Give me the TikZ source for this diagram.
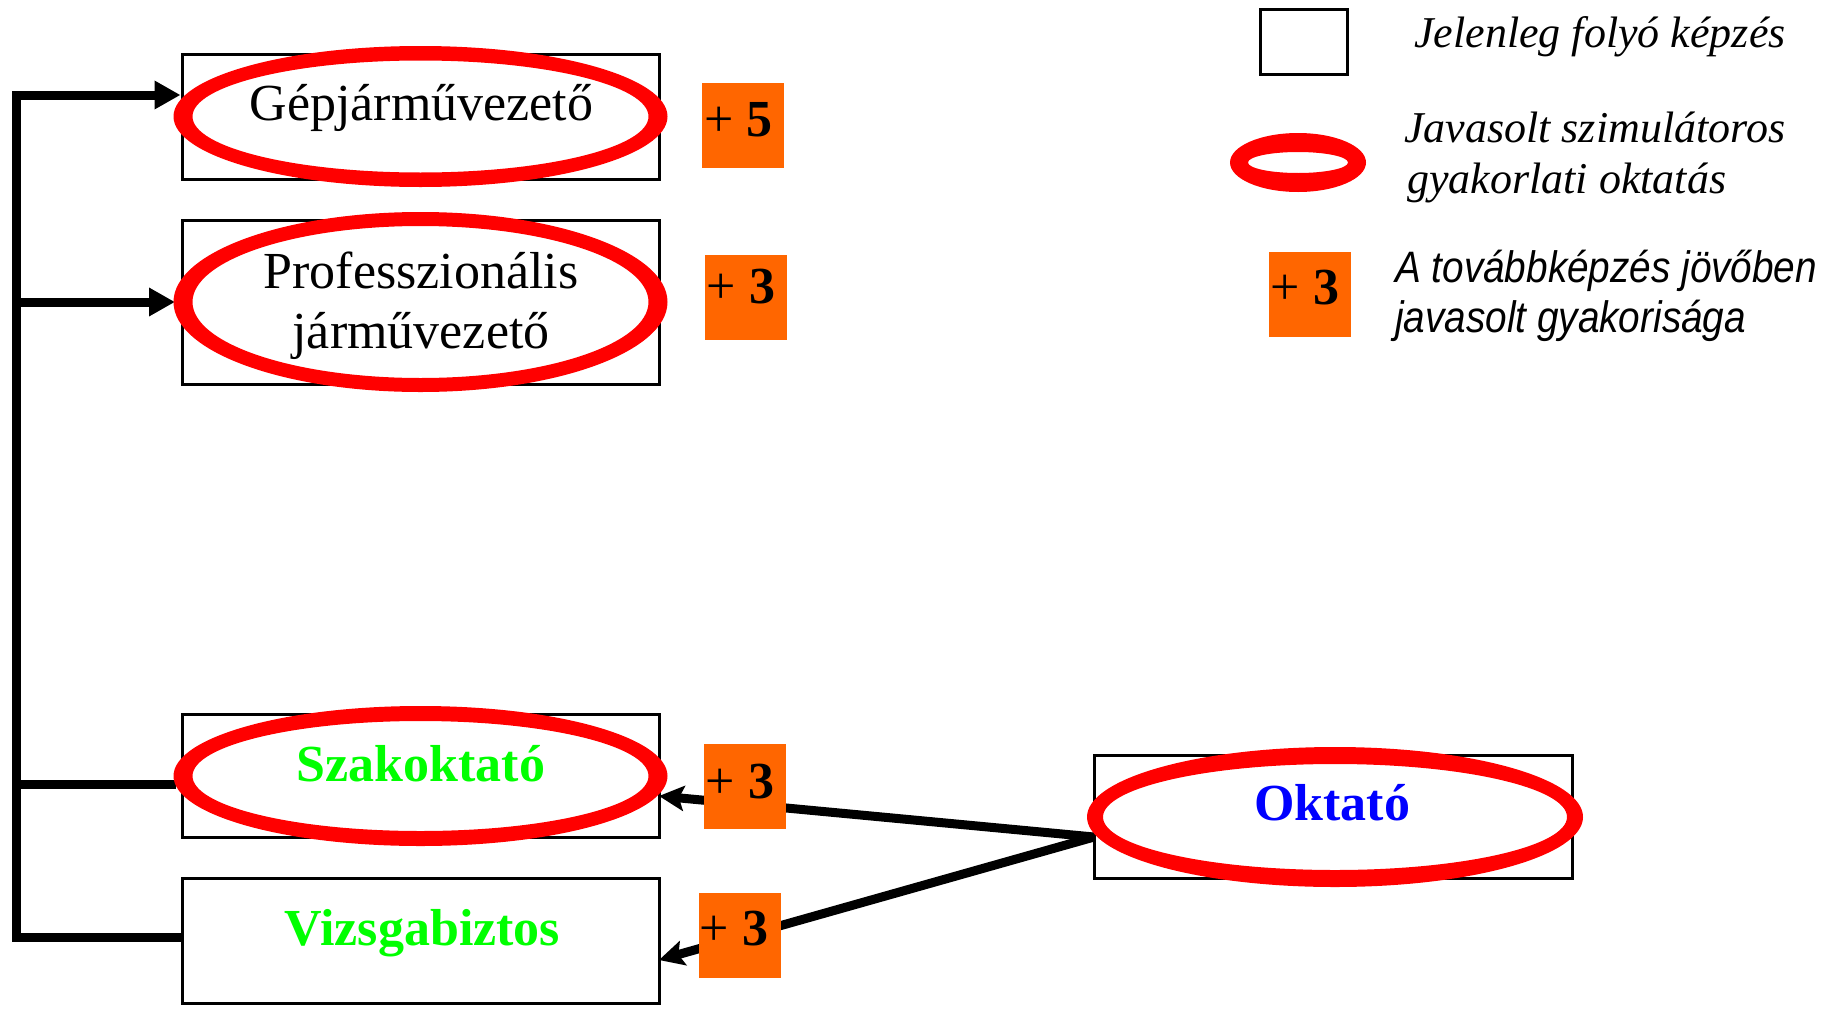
\documentclass[tikz,border=0pt]{standalone}
\usepackage{fontspec}
\setmainfont{Liberation Serif}
\newfontfamily\arialc[FakeStretch=0.88]{Liberation Sans}
\usetikzlibrary{arrows.meta}
\definecolor{ornge}{HTML}{FF6600}
\definecolor{grn}{HTML}{00FF00}
\definecolor{blu}{HTML}{0000FF}
\definecolor{rd}{HTML}{FF0000}
\newcommand\myring[5]{\fill[rd, even odd rule] (#1) ellipse [x radius=#2pt, y radius=#3pt] (#1) ellipse [x radius=#4pt, y radius=#5pt];}
\newcommand\plusnum[1]{{\mdseries +} #1}
\begin{document}
\begin{tikzpicture}[x=1pt,y=-1pt,
  box/.style={draw=black, line width=3pt, fill=white, inner sep=0pt},
  obox/.style={fill=ornge, inner sep=0pt, minimum width=82pt, minimum height=85pt},
  lbl/.style={anchor=base, inner sep=0pt, font=\fontsize{52}{60}\selectfont},
  blbl/.style={anchor=base, inner sep=0pt, font=\fontsize{52}{60}\selectfont\bfseries},
  leg/.style={anchor=base west, inner sep=0pt, font=\fontsize{44}{50}\selectfont\itshape},
  lega/.style={anchor=base west, inner sep=0pt, font=\fontsize{44}{50}\arialc\itshape},
  conn/.style={line width=9pt, black},
  trih/.style={-{Triangle[length=26pt,width=27pt]}},
  stlh/.style={-{Stealth[length=25pt,width=25pt,inset=5pt]}}]
\useasboundingbox (0,0) rectangle (1822,1009);
% boxes
\node[box, minimum width=477pt, minimum height=125pt] (b1) at (420.5,116.5) {};
\node[box, minimum width=477pt, minimum height=164pt] (b2) at (420.5,302) {};
\node[box, minimum width=477pt, minimum height=123pt] (b3) at (420.5,775.5) {};
\node[box, minimum width=477pt, minimum height=125pt] (b4) at (420.5,940.5) {};
\node[box, minimum width=478pt, minimum height=123pt] (ok) at (1333,816.5) {};
\node[box, minimum width=87pt, minimum height=65pt] (lsq) at (1303.5,41.5) {};
% connectors
\coordinate (tTop) at (16,95);
\coordinate (tP) at (16,302);
\coordinate (tS) at (16,784);
\coordinate (tV) at (16,937);
\coordinate (pEnd) at (175,302);
\coordinate (sEnd) at (176,784);
\coordinate (os) at (1094,837);
\coordinate (s3) at (659,796);
\coordinate (s4) at (659,960);
\draw[conn, line cap=rect] (tV) -- (tTop);
\draw[conn, trih] (tTop) -- (tTop -| b1.west);
\draw[conn, trih] (tP) -- (pEnd);
\draw[conn] (tS) -- (sEnd);
\draw[conn] (tV) -- (tV -| b4.west);
\draw[conn, stlh] (os) -- (s3);
\draw[conn, stlh] (os) -- (s4);
% orange boxes
\node[obox] (o1) at (743,125.5) {};
\node[obox] (o2) at (746,297.5) {};
\node[obox] (o3) at (744.5,786) {};
\node[obox] (o4) at (739.5,935.5) {};
\node[obox] (lor) at (1310,294) {};
% rings
\myring{420.5,116.5}{247}{70.5}{228}{56}
\myring{420.5,302}{247}{90}{228}{76}
\myring{420.5,776}{247}{70}{228}{55}
\myring{1335,817}{248}{70}{232}{53}
\myring{1298,162.5}{68}{29.5}{50}{10.5}
% texts
\node[lbl] (t1) at (421.5,120) {Gépjárművezető};
\node[lbl] (t2a) at (421,288) {Professzionális};
\node[lbl] (t2b) at (421,348) {járművezető};
\node[blbl, text=grn] (t3) at (421,781) {Szakoktató};
\node[blbl, text=grn] (t4) at (422.5,945) {Vizsgabiztos};
\node[blbl, text=blu] (t5) at (1332,820) {Oktató};
\node[blbl] (n1) at (738.5,136) {\plusnum{5}};
\node[blbl] (n2) at (741,303) {\plusnum{3}};
\node[blbl] (n3) at (740,798) {\plusnum{3}};
\node[blbl] (n4) at (734,945) {\plusnum{3}};
\node[blbl] (n5) at (1305,304) {\plusnum{3}};
\node[leg] (l1) at (1414,47) {Jelenleg folyó képzés};
\node[leg] (l2) at (1404,142) {Javasolt szimulátoros};
\node[leg] (l3) at (1407,193) {gyakorlati oktatás};
\node[lega] (l4) at (1395,282) {A továbbképzés jövőben};
\node[lega] (l5) at (1395,332) {javasolt gyakorisága};
\end{tikzpicture}
\end{document}
